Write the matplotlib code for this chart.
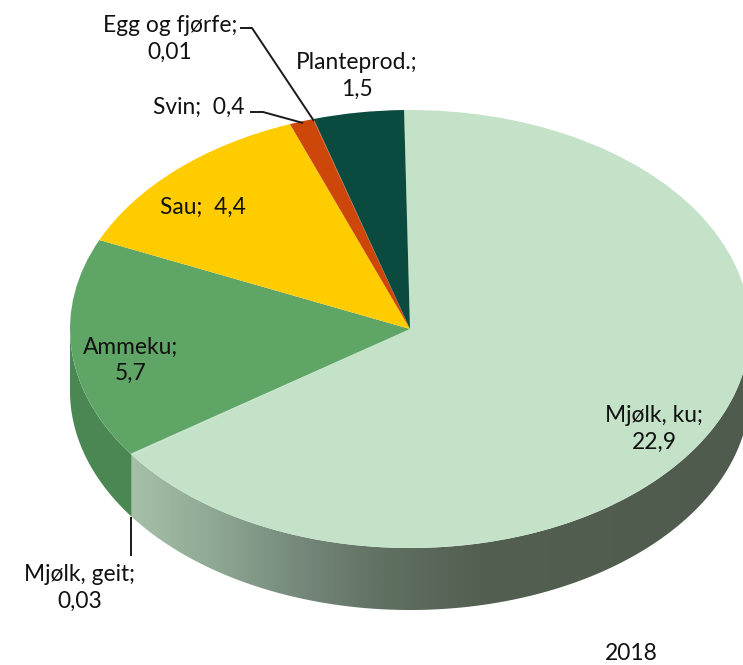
import numpy as np
import matplotlib
matplotlib.use("Agg")
import matplotlib.pyplot as plt
from matplotlib.colors import LinearSegmentedColormap
from matplotlib.patches import Polygon
from matplotlib.transforms import Affine2D

plt.rcParams['font.family'] = ['Lato', 'DejaVu Sans']

categories = ["Mjølk, ku", "Mjølk, geit", "Ammeku", "Sau", "Svin", "Egg og fjørfe", "Planteprod."]
values = [22.9, 0.03, 5.7, 4.4, 0.4, 0.01, 1.5]
value_labels = ["22,9", "0,03", "5,7", "4,4", "0,4", "0,01", "1,5"]
colors = ["#c3e2c7", "#c3e2c7", "#5ea566", "#ffcc00", "#cc4709", "#cc4709", "#0b4a3e"]
year = "2018"

W, H = 743, 665
CX, CY, RX, RY, DEPTH = 410, 329, 340, 219, 62
START = 91

fig = plt.figure(figsize=(W / 100, H / 100), dpi=100, facecolor="white")
ax = fig.add_axes([0, 0, 1, 1])
px = Affine2D().scale(1 / W, -1 / H).translate(0, 1) + fig.transFigure

xlim = (-CX / RX, (W - CX) / RX)
ylim = ((CY - H) / RY, CY / RY)

# Side wall, derived from the wedge angles
v = np.array(values)
edges = START - 360 * np.cumsum(v) / v.sum()   # clockwise from the top
dy = DEPTH / RY
a_split = edges[0] % 360 - 360                 # lower-left end of the cow-milk slice

def wall(a0, a1, n=200):
    t = np.radians(np.linspace(a0, a1, n))
    top = np.column_stack([np.cos(t), np.sin(t)])
    bottom = np.column_stack([np.cos(t[::-1]), np.sin(t[::-1]) - dy])
    return np.vstack([top, bottom])

cmap = LinearSegmentedColormap.from_list(
    "wall", [(0, "#a6bfa9"), (0.13, "#8fa893"), (0.28, "#74877a"), (0.42, "#5f6f60"),
             (0.58, "#525f51"), (1, "#4e5b4d")])
x0 = np.cos(np.radians(a_split))
im = ax.imshow(np.linspace(0, 1, 600)[None, :], cmap=cmap, aspect="auto",
               extent=[x0, xlim[1], ylim[0], 0.2], interpolation="bilinear", zorder=1)
clip = Polygon(wall(a_split, 0), closed=True, transform=ax.transData, fc="none", ec="none")
ax.add_patch(clip)
im.set_clip_path(clip)
ax.add_patch(Polygon(wall(-180, a_split), closed=True, fc="#4a8753", ec="none", zorder=1))

wedges, _ = ax.pie(values, colors=colors, startangle=START, counterclock=False, radius=1,
                   wedgeprops={"linewidth": 0}, center=(0, 0), frame=False)
for w in wedges:
    w.set_zorder(2)
ax.set_aspect("auto")
ax.set_xlim(*xlim)
ax.set_ylim(*ylim)
ax.axis("off")

# Leader lines
line = dict(color="#1a1a1a", lw=1.4, transform=px, solid_capstyle="butt", zorder=5, clip_on=False)
ax.plot([240, 252, 314], [28, 28, 121], **line)
ax.plot([250, 263, 303], [112, 112, 123], **line)
ax.plot([131, 131], [517, 556], **line)

# Labels
txt = dict(transform=px, ha="center", va="center", fontsize=16.4, color="#111111", zorder=6, linespacing=1.3)
ax.text(170, 39, f"{categories[5]};\n{value_labels[5]}", **txt)
ax.text(357, 76, f"{categories[6]};\n{value_labels[6]}", **txt)
ax.text(199, 107, f"{categories[4]};  {value_labels[4]}", **txt)
ax.text(203, 207, f"{categories[3]};  {value_labels[3]}", **txt)
ax.text(131, 360, f"{categories[2]};\n{value_labels[2]}", **txt)
ax.text(654, 429, f"{categories[0]};\n{value_labels[0]}", **txt)
ax.text(80, 588, f"{categories[1]};\n{value_labels[1]}", **txt)
ax.text(631, 653, year, **txt)

fig.savefig("out.png", dpi=100, facecolor="white")
